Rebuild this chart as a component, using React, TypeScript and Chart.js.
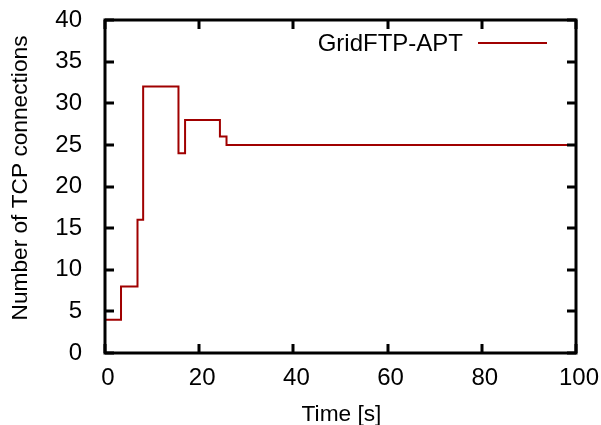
import React, { useEffect, useRef } from "react";
import { Chart, registerables } from "chart.js";

Chart.register(...registerables);

const times = [0, 3.4, 6.9, 8.1, 15.6, 17.0, 24.4, 25.8, 100];
const connections = [4, 8, 16, 32, 24, 28, 26, 25, 25];
const seriesLabel = "GridFTP-APT";
const xTitle = "Time [s]";
const yTitle = "Number of TCP connections";
const xTicks = [0, 20, 40, 60, 80, 100];
const yTicks = [0, 5, 10, 15, 20, 25, 30, 35, 40];

const FONT = "'Liberation Sans', Arial, sans-serif";
const LINE_COLOR = "#a00000";

const framePlugin = {
  id: "gnuplotFrame",
  afterDraw(chart: any) {
    const { ctx, chartArea, scales } = chart;
    const { left, right, top, bottom } = chartArea;
    const xs = scales.x;
    const ys = scales.y;
    ctx.save();
    ctx.strokeStyle = "#000";
    ctx.lineWidth = 3;
    ctx.lineCap = "butt";
    const tl = 9;
    ctx.beginPath();
    for (const v of xTicks) {
      const px = Math.round(xs.getPixelForValue(v));
      ctx.moveTo(px, bottom);
      ctx.lineTo(px, bottom - tl);
      ctx.moveTo(px, top);
      ctx.lineTo(px, top + tl);
    }
    for (const v of yTicks) {
      const py = Math.round(ys.getPixelForValue(v));
      ctx.moveTo(left, py);
      ctx.lineTo(left + tl, py);
      ctx.moveTo(right, py);
      ctx.lineTo(right - tl, py);
    }
    ctx.stroke();
    ctx.lineWidth = 3;
    ctx.strokeRect(left, top, right - left, bottom - top);

    // legend
    ctx.font = `24px ${FONT}`;
    ctx.fillStyle = "#000";
    ctx.textAlign = "right";
    ctx.textBaseline = "alphabetic";
    ctx.fillText(seriesLabel, 463, 51);
    ctx.strokeStyle = LINE_COLOR;
    ctx.lineWidth = 2;
    ctx.beginPath();
    ctx.moveTo(478, 43);
    ctx.lineTo(547, 43);
    ctx.stroke();

    // axis titles
    ctx.font = `22.7px ${FONT}`;
    ctx.fillStyle = "#000";
    ctx.textAlign = "center";
    ctx.fillText(xTitle, (left + right) / 2 + 1, 421);
    ctx.translate(27, 178);
    ctx.rotate(-Math.PI / 2);
    ctx.fillText(yTitle, 0, 0);
    ctx.restore();
  },
};

export default function App() {
  const ref = useRef<HTMLCanvasElement | null>(null);
  useEffect(() => {
    document.body.style.margin = "0";
    const canvas = ref.current;
    if (!canvas) return;
    const chart = new Chart(canvas, {
      type: "line",
      data: {
        datasets: [
          {
            label: seriesLabel,
            data: times.map((t, i) => ({ x: t, y: connections[i] })),
            borderColor: LINE_COLOR,
            borderWidth: 2,
            pointRadius: 0,
            stepped: "before",
            fill: false,
          },
        ],
      },
      options: {
        responsive: false,
        animation: false,
        layout: { padding: { top: 20, right: 25, left: 0, bottom: 0 } },
        plugins: { legend: { display: false }, tooltip: { enabled: false } },
        scales: {
          x: {
            type: "linear",
            min: 0,
            max: 100,
            grid: { display: false },
            border: { display: false },
            afterFit: (s: any) => {
              s.height = 72;
              s.paddingLeft = 0;
              s.paddingRight = 0;
              s.paddingTop = 0;
              s.paddingBottom = 0;
            },
            afterBuildTicks: (s: any) => {
              s.ticks = xTicks.map((v) => ({ value: v }));
            },
            ticks: {
              padding: 3,
              labelOffset: 3,
              color: "#000",
              font: { family: FONT, size: 24 },
              maxRotation: 0,
            },
          },
          y: {
            type: "linear",
            min: 0,
            max: 40,
            grid: { display: false },
            border: { display: false },
            afterFit: (s: any) => {
              s.width = 105;
              s.paddingLeft = 0;
              s.paddingRight = 0;
              s.paddingTop = 0;
              s.paddingBottom = 0;
            },
            afterBuildTicks: (s: any) => {
              s.ticks = yTicks.map((v) => ({ value: v }));
            },
            ticks: {
              padding: 15,
              color: "#000",
              font: { family: FONT, size: 24 },
            },
          },
        },
      },
      plugins: [framePlugin],
    });
    return () => chart.destroy();
  }, []);
  return (
    <div style={{ position: "absolute", left: 0, top: 0, width: 601, height: 425 }}>
      <canvas ref={ref} width={601} height={425} />
    </div>
  );
}
